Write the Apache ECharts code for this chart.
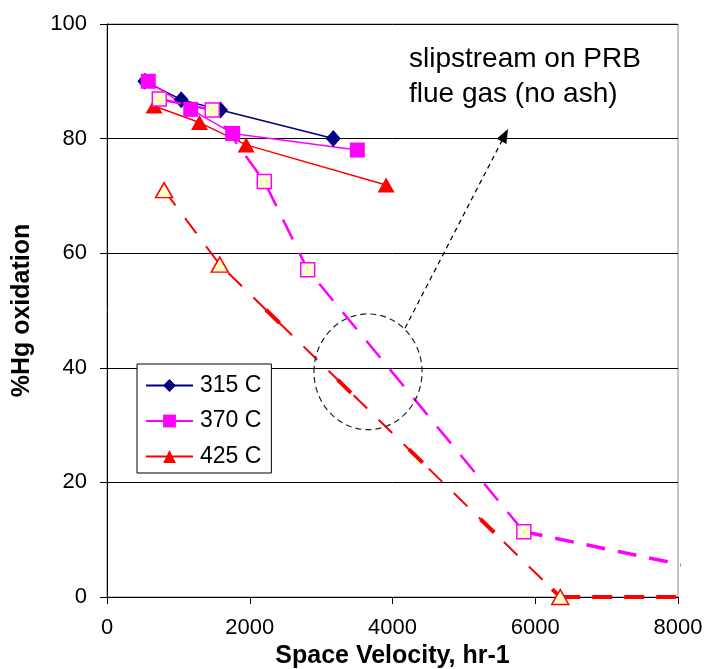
<!DOCTYPE html>
<html><head><meta charset="utf-8">
<script src="https://cdn.jsdelivr.net/npm/echarts/dist/echarts.min.js"></script>
<style>html,body{margin:0;padding:0;background:#fff}#c{width:706px;height:669px}</style>
</head><body><div id="c"></div>
<script>
// ---- data ----
const xTicks = [0, 2000, 4000, 6000, 8000];
const yTicks = [0, 20, 40, 60, 80, 100];
const legendNames = ['315 C', '370 C', '425 C'];
const s315 = [[530, 90], [1040, 86.8], [1590, 85], [3170, 80]];
const s370 = [[578, 90], [1173, 85.1], [1761, 80.9], [3507, 78]];
const s425 = [[660, 85.7], [1296, 82.8], [1950, 78.9], [3911, 71.9]];
const s370ash = [[733, 86.9], [1475, 85], [2204, 72.5], [2812, 57.1], [5840, 11.4]];
const s370ashTail = [[5840, 11.4], [8100, 5.5]];
const s425ash = [[800, 71], [1580, 58], [6350, 0]];
const s425ashTail = [[6350, 0], [8000, 0]];
const noteText = ['slipstream on PRB', 'flue gas (no ash)'];
const arrowFrom = [4175, 46.9];
const arrowTo = [5573, 80.6];
const ellipseCenter = [3657, 39.3];
const ellipseRadius = [757, 10.1];
// --------------------------------------

const FONT = "'Liberation Sans', Arial, sans-serif";
const chart = echarts.init(document.getElementById('c'), null, {renderer: 'canvas'});
const hollow = '#ffffcc';

chart.setOption({
  animation: false,
  backgroundColor: '#fff',
  textStyle: {fontFamily: FONT},
  grid: {left: 107, right: 28, top: 24, bottom: 72, containLabel: false, outerBoundsMode: 'none',
         show: true, borderColor: '#888', borderWidth: 1, backgroundColor: 'transparent'},
  xAxis: {
    type: 'value', min: xTicks[0], max: xTicks[xTicks.length - 1], interval: xTicks[1] - xTicks[0],
    name: 'Space Velocity, hr-1', nameLocation: 'middle', nameGap: 47,
    nameTextStyle: {fontFamily: FONT, fontSize: 25, fontWeight: 'bold', color: '#000'},
    axisLine: {show: true, lineStyle: {color: '#000', width: 1}},
    axisTick: {show: true, inside: false, length: 7, lineStyle: {color: '#000'}},
    axisLabel: {fontFamily: FONT, fontSize: 22, color: '#000', margin: 20, formatter: v => String(v)},
    splitLine: {show: false}
  },
  yAxis: {
    type: 'value', min: yTicks[0], max: yTicks[yTicks.length - 1], interval: yTicks[1] - yTicks[0],
    name: '%Hg oxidation', nameLocation: 'middle', nameGap: 72, nameRotate: 90,
    nameTextStyle: {fontFamily: FONT, fontSize: 25, fontWeight: 'bold', color: '#000'},
    axisLine: {show: true, lineStyle: {color: '#000', width: 1}},
    axisTick: {show: true, inside: false, length: 7, lineStyle: {color: '#000'}},
    axisLabel: {fontFamily: FONT, fontSize: 22, color: '#000', margin: 20, formatter: v => String(v)},
    splitLine: {show: true, lineStyle: {color: '#000', width: 1}}
  },
  legend: {
    data: legendNames, orient: 'vertical', left: 137, top: 364,
    padding: [10, 10, 5, 8], itemGap: 12.5, itemWidth: 47, itemHeight: 16,
    backgroundColor: '#fff', borderColor: '#000', borderWidth: 1, borderRadius: 0,
    textStyle: {fontFamily: FONT, fontSize: 23, color: '#000', lineHeight: 23, padding: [0, 0, 0, 2]}
  },
  series: [
    {name: '315 C', type: 'line', data: s315, symbol: 'diamond', symbolSize: [15, 17],
     itemStyle: {color: '#000080'}, lineStyle: {color: '#000080', width: 1.5}, z: 2},
    {name: '425 C', type: 'line', data: s425, symbol: 'triangle', symbolSize: [17, 15],
     itemStyle: {color: '#ff0000'}, lineStyle: {color: '#ff0000', width: 1.5}, z: 2},
    {name: '370 C', type: 'line', data: s370, symbol: 'rect', symbolSize: 15,
     itemStyle: {color: '#ff00ff'}, lineStyle: {color: '#ff00ff', width: 1.5}, z: 2},
    {name: '425 C no ash tail', type: 'line', data: s425ashTail, symbol: 'none',
     lineStyle: {color: '#ff0000', width: 4, type: [20, 12]}, z: 2},
    {name: '425 C no ash overlay', type: 'line', data: s425ash.slice(1), symbol: 'none',
     lineStyle: {color: '#ff0000', width: 4, type: [19, 81], dashOffset: 35.5}, z: 2},
    {name: '425 C no ash', type: 'line', data: s425ash, symbol: 'triangle', symbolSize: [17, 15],
     itemStyle: {color: hollow, borderColor: '#ff0000', borderWidth: 1.5},
     lineStyle: {color: '#ff0000', width: 2, type: [19, 16]}, z: 3},
    {name: '370 C no ash tail', type: 'line', data: s370ashTail, symbol: 'none', clip: true,
     lineStyle: {color: '#ff00ff', width: 3.5, type: [19, 13]}, z: 2,
     markLine: {silent: true, symbol: ['none', 'triangle'], symbolSize: [11, 14],
       lineStyle: {color: '#000', width: 1.2, type: [5, 4]}, label: {show: false},
       data: [[{coord: arrowFrom}, {coord: arrowTo}]]}},
    {name: '370 C no ash', type: 'line', data: s370ash, symbol: 'rect', symbolSize: 14,
     itemStyle: {color: hollow, borderColor: '#ff00ff', borderWidth: 1.5},
     lineStyle: {color: '#ff00ff', width: 2.5, type: [22, 15]}, z: 3}
  ]
});

const c = chart.convertToPixel({gridIndex: 0}, ellipseCenter);
const e = chart.convertToPixel({gridIndex: 0}, [ellipseCenter[0] + ellipseRadius[0], ellipseCenter[1] + ellipseRadius[1]]);
chart.setOption({
  graphic: [
    {type: 'ellipse', z: 10, silent: true,
     shape: {cx: c[0], cy: c[1], rx: Math.abs(e[0] - c[0]), ry: Math.abs(e[1] - c[1])},
     style: {fill: 'none', stroke: '#222', lineWidth: 1.2, lineDash: [6, 4]}},
    {type: 'text', left: 409, top: 42, z: 10, silent: true,
     style: {text: noteText.join('\n'), font: "28px 'Liberation Sans', Arial, sans-serif", fill: '#000', lineHeight: 35}}
  ]
});
</script></body></html>
